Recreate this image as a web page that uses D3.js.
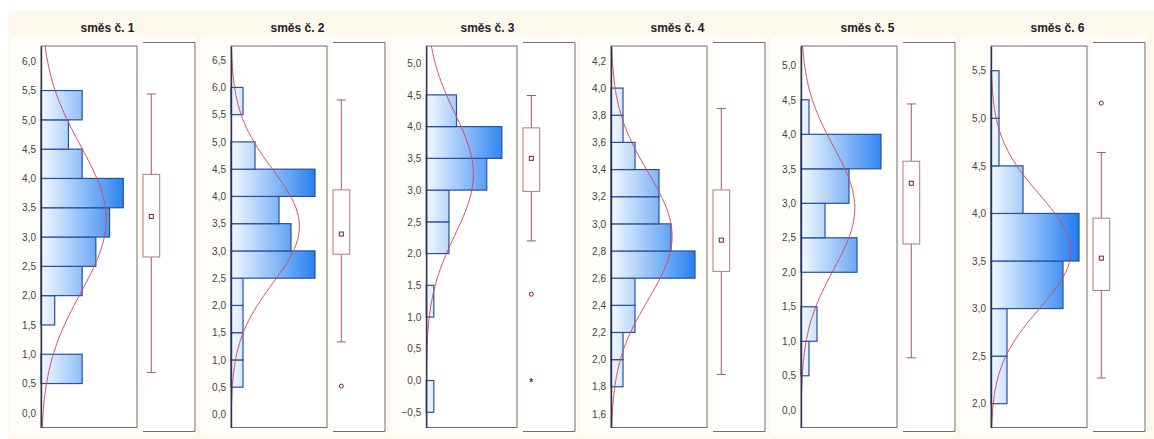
<!DOCTYPE html>
<html>
<head>
<meta charset="utf-8">
<title>směsi - histogramy</title>
<script src="https://cdnjs.cloudflare.com/ajax/libs/d3/7.8.5/d3.min.js"></script>
<style>
  html, body { margin: 0; padding: 0; background: #fff; }
  svg { display: block; font-family: "Liberation Sans", Arial, sans-serif; }
</style>
</head>
<body>
<svg id="chart" width="1154" height="439"></svg>
<script>
// --- data ---
const titles = ["směs č. 1", "směs č. 2", "směs č. 3", "směs č. 4", "směs č. 5", "směs č. 6"];

// value axis (vertical) per panel
const yDomains = [[-0.25, 6.26], [-0.24, 6.76], [-0.74, 5.27], [1.50, 4.31], [-0.25, 5.28], [1.75, 5.76]];
const tickFrom = [0, 0, -0.5, 1.6, 0, 2.0];
const tickTo   = [6, 6.5, 5, 4.2, 5, 5.5];
const tickStep = [0.5, 0.5, 0.5, 0.2, 0.5, 0.5];

// histogram bins (counts from the lowest bin up)
const binStarts = [0.5, 0.5, -0.5, 1.8, 0.5, 2.0];
const binWidths = [0.5, 0.5, 0.5, 0.2, 0.5, 0.5];
const counts1 = [3, 0, 1, 3, 4, 5, 6, 3, 2, 3];
const counts2 = [1, 1, 1, 1, 7, 5, 4, 7, 2, 0, 1];
const counts3 = [1, 0, 0, 1, 0, 3, 3, 8, 10, 4];
const counts4 = [1, 1, 2, 2, 7, 5, 4, 4, 2, 1, 1];
const counts5 = [1, 2, 0, 7, 3, 6, 10, 1];
const counts6 = [2, 2, 9, 11, 4, 1, 1];
const allCounts = [counts1, counts2, counts3, counts4, counts5, counts6];
const countMax = [7, 8, 12, 8, 12, 12];

// fitted normal curve
const fitMeans = [3.30, 3.45, 3.25, 2.91, 2.93, 3.60];
const fitSds   = [1.26, 1.05, 0.96, 0.47, 0.89, 0.60];

// box plots
const whiskLo = [0.69, 1.33, 2.20, 1.89, 0.76, 2.27];
const q1s     = [2.66, 2.94, 2.98, 2.65, 2.41, 3.19];
const mids    = [3.35, 3.31, 3.50, 2.88, 3.29, 3.53];
const q3s     = [4.07, 4.12, 3.98, 3.25, 3.61, 3.95];
const whiskHi = [5.44, 5.77, 4.49, 3.85, 4.44, 4.64];
const outliers = [[], [0.52], [1.36], [], [], [5.16]];
const extremes = [[], [], [-0.03], [], [], []];

// --- drawing ---
const svg = d3.select("#chart");
const defs = svg.append("defs");
const comma = v => d3.format(".1f")(v).replace(".", ",");

svg.append("rect")
    .attr("x", 8).attr("y", 11)
    .attr("width", 1146).attr("height", 428)
    .attr("fill", "#fdf8ec");

const histTop = 46, histBottom = 427.5;
const boxTop = 42.5, boxBottom = 431.5;
const boxColor = "#a55867";

// measure tick label widths so the frame leaves room for them
const measure = svg.append("text").attr("font-size", 10);
function textWidth(s) {
    measure.text(s);
    return measure.node().getComputedTextLength();
}

titles.forEach((title, i) => {
    const x0 = 12.5 + 190 * i;
    const ticks = d3.range(tickFrom[i], tickTo[i] + 1e-9, tickStep[i]);
    const labelW = d3.max(ticks, t => textWidth(comma(t)));
    const left = x0 + Math.max(28.5, 10 + labelW + 4);
    const right = x0 + 124.5;
    const boxLeft = x0 + 130.5, boxRight = x0 + 182.5;

    const g = svg.append("g");

    // light plot area
    g.append("rect")
        .attr("x", x0 - 2).attr("y", 37)
        .attr("width", boxRight - x0 + 4).attr("height", 398)
        .attr("fill", "#fffdf7");

    g.append("text")
        .attr("x", x0 + 95).attr("y", 32)
        .attr("text-anchor", "middle")
        .attr("font-size", 12).attr("font-weight", "bold")
        .attr("fill", "#222")
        .text(title);

    const y = d3.scaleLinear().domain(yDomains[i]).range([histBottom, histTop]);
    const x = d3.scaleLinear().domain([0, countMax[i]]).range([left, right]);

    // frame
    g.append("rect")
        .attr("x", left).attr("y", histTop)
        .attr("width", right - left).attr("height", histBottom - histTop)
        .attr("fill", "#fff")
        .attr("stroke", "#6e6e6e").attr("stroke-width", 1);

    const grad = defs.append("linearGradient")
        .attr("id", "grad" + i)
        .attr("gradientUnits", "userSpaceOnUse")
        .attr("x1", left).attr("x2", right).attr("y1", 0).attr("y2", 0);
    grad.append("stop").attr("offset", "0%").attr("stop-color", "#f3f9ff");
    grad.append("stop").attr("offset", "100%").attr("stop-color", "#0b70ee");

    const bw = binWidths[i];
    const bins = allCounts[i].map((c, k) => ({ lo: binStarts[i] + k * bw, c: c }))
        .filter(d => d.c > 0);

    g.selectAll("rect.bar")
        .data(bins)
        .join("rect")
        .attr("class", "bar")
        .attr("x", left)
        .attr("y", d => y(d.lo + bw))
        .attr("width", d => x(d.c) - left)
        .attr("height", d => y(d.lo) - y(d.lo + bw))
        .attr("fill", "url(#grad" + i + ")")
        .attr("stroke", "#27509e")
        .attr("stroke-width", 1.2);

    // normal curve
    const n = d3.sum(allCounts[i]);
    const mu = fitMeans[i], sd = fitSds[i];
    const pdf = v => Math.exp(-((v - mu) ** 2) / (2 * sd * sd)) / (sd * Math.sqrt(2 * Math.PI));
    const dom = yDomains[i];
    const pts = d3.range(dom[0], dom[1], (dom[1] - dom[0]) / 300).concat([dom[1]]);

    defs.append("clipPath").attr("id", "clip" + i)
        .append("rect")
        .attr("x", left).attr("y", histTop)
        .attr("width", right - left).attr("height", histBottom - histTop);

    g.append("path")
        .datum(pts)
        .attr("clip-path", "url(#clip" + i + ")")
        .attr("fill", "none")
        .attr("stroke", "#d2485c")
        .attr("stroke-width", 1)
        .attr("d", d3.line()
            .x(v => x(n * bw * pdf(v)))
            .y(v => y(v)));

    // axis
    const axis = g.append("g")
        .attr("transform", `translate(${left},0)`)
        .call(d3.axisLeft(y).tickValues(ticks).tickFormat(comma).tickSize(0).tickSizeOuter(0).tickPadding(5));
    axis.select(".domain").attr("stroke", "#2a3552").attr("stroke-width", 1.4);
    axis.selectAll("text").attr("font-size", 10).attr("fill", "#444")
        .attr("font-family", "Liberation Sans, Arial, sans-serif");

    // box plot panel
    g.append("rect")
        .attr("x", boxLeft).attr("y", boxTop)
        .attr("width", boxRight - boxLeft).attr("height", boxBottom - boxTop)
        .attr("fill", "#fff");
    g.append("path")
        .attr("d", `M${boxLeft},${boxTop}H${boxRight}V${boxBottom}H${boxLeft}`)
        .attr("fill", "none")
        .attr("stroke", "#6e6e6e");

    const cx = boxLeft + 8.3;
    const bp = g.append("g").attr("stroke", boxColor).attr("fill", "none").attr("stroke-width", 1);
    bp.append("line").attr("x1", cx).attr("x2", cx).attr("y1", y(whiskHi[i])).attr("y2", y(q3s[i]));
    bp.append("line").attr("x1", cx).attr("x2", cx).attr("y1", y(q1s[i])).attr("y2", y(whiskLo[i]));
    bp.append("line").attr("x1", cx - 4.5).attr("x2", cx + 4.5).attr("y1", y(whiskHi[i])).attr("y2", y(whiskHi[i]));
    bp.append("line").attr("x1", cx - 4.5).attr("x2", cx + 4.5).attr("y1", y(whiskLo[i])).attr("y2", y(whiskLo[i]));
    bp.append("rect")
        .attr("x", boxLeft).attr("y", y(q3s[i]))
        .attr("width", 16.7).attr("height", y(q1s[i]) - y(q3s[i]))
        .attr("fill", "#fff").attr("stroke", "#b57682");
    bp.append("rect")
        .attr("x", cx - 2).attr("y", y(mids[i]) - 2)
        .attr("width", 4).attr("height", 4)
        .attr("stroke", "#7a1f30");

    bp.selectAll("circle.out")
        .data(outliers[i])
        .join("circle")
        .attr("class", "out")
        .attr("cx", cx).attr("cy", v => y(v)).attr("r", 2)
        .attr("stroke", "#7a1f30");

    g.selectAll("text.ext")
        .data(extremes[i])
        .join("text")
        .attr("class", "ext")
        .attr("x", cx).attr("y", v => y(v) + 4)
        .attr("text-anchor", "middle")
        .attr("font-size", 10).attr("font-weight", "bold")
        .attr("fill", "#7a1f30")
        .text("*");
});

measure.remove();
</script>
</body>
</html>
